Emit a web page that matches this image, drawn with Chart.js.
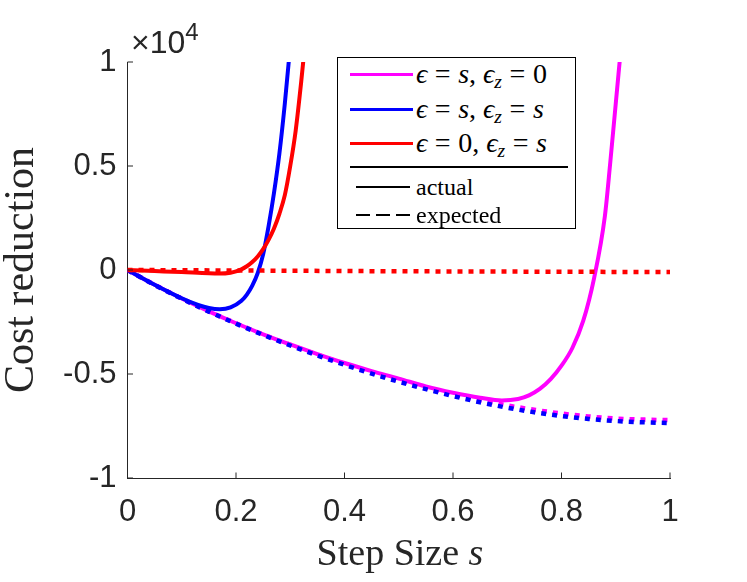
<!DOCTYPE html>
<html>
<head>
<meta charset="utf-8">
<script src="https://cdn.jsdelivr.net/npm/chart.js@4.4.0/dist/chart.umd.min.js"></script>
<style>
body { margin: 0; background: #fff; }
#wrap { position: relative; width: 747px; height: 582px; }
canvas { position: absolute; left: 0; top: 0; }
#mult { position: absolute; left: 131px; top: 27px; font: 32px "Liberation Sans", Arial, sans-serif; line-height: 30px; color: #262626; white-space: nowrap; }
#mult sup { font-size: 24px; vertical-align: baseline; position: relative; top: -13px; }
#xlab { position: absolute; left: 250px; width: 300px; top: 532px; text-align: center; font: 38px "Liberation Serif", serif; line-height: 40px; color: #262626; }
.legend { position: absolute; left: 337px; top: 57px; width: 237px; height: 170px; border: 1px solid #000; background: #fff; font-family: "Liberation Serif", "DejaVu Serif", serif; color: #000; }
.row { position: absolute; left: 0; width: 237px; height: 30px; }
.smp { position: absolute; }
.txt { position: absolute; left: 78px; top: 0; height: 30px; line-height: 30px; white-space: nowrap; }
.math { font-size: 28px; }
.plain { font-size: 24px; }
.eq { margin: 0 0.27em; }
.txt sub { font-size: 0.7em; line-height: 0; vertical-align: -0.25em; }
</style>
</head>
<body>
<div id="wrap">
  <canvas id="myChart" width="747" height="582"></canvas>
  <div id="mult">×10<sup>4</sup></div>
  <div id="xlab">Step Size <i>s</i></div>
  <div class="legend">
    <div class="row" style="top:1px">
      <div class="smp" style="left:12px;top:13.5px;width:63px;height:3px;background:#ff00ff"></div>
      <div class="txt math"><i>ϵ</i><span class="eq">=</span><i>s</i>, <i>ϵ</i><sub><i>z</i></sub><span class="eq">=</span>0</div>
    </div>
    <div class="row" style="top:36px">
      <div class="smp" style="left:12px;top:13.5px;width:63px;height:3px;background:#0000ff"></div>
      <div class="txt math"><i>ϵ</i><span class="eq">=</span><i>s</i>, <i>ϵ</i><sub><i>z</i></sub><span class="eq">=</span><i>s</i></div>
    </div>
    <div class="row" style="top:70px">
      <div class="smp" style="left:12px;top:13.5px;width:63px;height:3px;background:#ff0000"></div>
      <div class="txt math"><i>ϵ</i><span class="eq">=</span>0, <i>ϵ</i><sub><i>z</i></sub><span class="eq">=</span><i>s</i></div>
    </div>
    <div class="smp" style="left:12px;top:107.5px;width:218px;height:2px;background:#000"></div>
    <div class="row" style="top:114px">
      <div class="smp" style="left:18px;top:13.5px;width:54px;height:2.5px;background:#000"></div>
      <div class="txt plain">actual</div>
    </div>
    <div class="row" style="top:142px">
      <div class="smp" style="left:18px;top:13.5px;width:54px;height:2.5px;background:repeating-linear-gradient(to right,#000 0 14px,transparent 14px 20px)"></div>
      <div class="txt plain">expected</div>
    </div>
  </div>
</div>
<script>
// ticks
var xTicks = [0, 0.2, 0.4, 0.6, 0.8, 1];
var xTickLabels = ['0', '0.2', '0.4', '0.6', '0.8', '1'];
var yTicks = [-1, -0.5, 0, 0.5, 1];
var yTickLabels = ['-1', '-0.5', '0', '0.5', '1'];

// expected curves (x 10^4)
var sExp = [0, 0.05, 0.1, 0.15, 0.2, 0.25, 0.3, 0.35, 0.4, 0.45, 0.5, 0.55, 0.6, 0.65, 0.7, 0.75, 0.8, 0.85, 0.9, 0.95, 1];
var expBlue = [0, -0.072, -0.138, -0.200, -0.258, -0.312, -0.363, -0.411, -0.456, -0.498, -0.537, -0.573, -0.606, -0.636, -0.662, -0.684, -0.702, -0.716, -0.726, -0.732, -0.736];
var expMagenta = [0, -0.071, -0.137, -0.199, -0.256, -0.310, -0.360, -0.407, -0.451, -0.492, -0.530, -0.565, -0.597, -0.626, -0.651, -0.672, -0.690, -0.704, -0.714, -0.719, -0.722];
var sExpRed = [0, 0.25, 0.5, 0.75, 1];
var expRed = [0, -0.003, -0.006, -0.008, -0.010];

// actual curves
var sMagenta = [0, 0.05, 0.1, 0.15, 0.2, 0.25, 0.3, 0.35, 0.4, 0.45, 0.5, 0.55, 0.6, 0.65, 0.69, 0.72, 0.74, 0.76, 0.78, 0.8, 0.82, 0.84, 0.86, 0.88, 0.89, 0.9, 0.91];
var actMagenta = [0, -0.071, -0.137, -0.199, -0.256, -0.309, -0.358, -0.404, -0.447, -0.486, -0.522, -0.56, -0.59, -0.614, -0.627, -0.62, -0.603, -0.572, -0.525, -0.46, -0.375, -0.245, -0.04, 0.26, 0.52, 0.80, 1.08];
var sBlue = [0, 0.05, 0.1, 0.13, 0.15, 0.17, 0.19, 0.21, 0.22, 0.23, 0.24, 0.25, 0.26, 0.27, 0.28, 0.29, 0.3];
var actBlue = [0, -0.071, -0.136, -0.168, -0.183, -0.189, -0.180, -0.148, -0.118, -0.075, -0.015, 0.075, 0.21, 0.37, 0.56, 0.80, 1.08];
var sRed = [0, 0.05, 0.1, 0.15, 0.17, 0.19, 0.2, 0.21, 0.22, 0.23, 0.24, 0.25, 0.26, 0.27, 0.28, 0.29, 0.3, 0.31, 0.32, 0.33];
var actRed = [0, -0.005, -0.010, -0.016, -0.017, -0.013, -0.007, 0.003, 0.018, 0.038, 0.065, 0.10, 0.145, 0.20, 0.27, 0.36, 0.50, 0.67, 0.90, 1.16];

function pts(xs, ys) {
  return xs.map(function (v, i) { return { x: v, y: ys[i] }; });
}

function line(xs, ys, color, dotted) {
  return {
    data: pts(xs, ys),
    borderColor: color,
    borderWidth: dotted ? 4.5 : 4,
    borderDash: dotted ? [5, 6] : [],
    borderCapStyle: 'butt',
    pointRadius: 0,
    fill: false,
    cubicInterpolationMode: 'monotone',
    clip: { left: 0, top: 0, right: 3, bottom: 0 }
  };
}

// ticks pointing inward, like the original axes
var innerTicks = {
  id: 'innerTicks',
  afterDraw: function (chart) {
    var ctx = chart.ctx, a = chart.chartArea, x = chart.scales.x, y = chart.scales.y;
    ctx.save();
    ctx.strokeStyle = '#262626';
    ctx.lineWidth = 1;
    ctx.beginPath();
    x.ticks.forEach(function (t) {
      var px = x.getPixelForValue(t.value);
      ctx.moveTo(px, a.bottom); ctx.lineTo(px, a.bottom - 5.5);
    });
    y.ticks.forEach(function (t) {
      var py = y.getPixelForValue(t.value);
      ctx.moveTo(a.left, py); ctx.lineTo(a.left + 5.5, py);
    });
    ctx.stroke();
    ctx.restore();
  }
};

var tickFont = { family: '"Liberation Sans", Arial, sans-serif', size: 31, lineHeight: 1 };

var ctx = document.getElementById('myChart').getContext('2d');
var chart = new Chart(ctx, {
  type: 'line',
  data: {
    datasets: [
      line(sExpRed, expRed, '#ff0000', true),
      line(sRed, actRed, '#ff0000', false),
      line(sExp, expBlue, '#0000ff', true),
      line(sBlue, actBlue, '#0000ff', false),
      line(sExp, expMagenta, '#ff00ff', true),
      line(sMagenta, actMagenta, '#ff00ff', false)
    ]
  },
  options: {
    responsive: false,
    animation: false,
    devicePixelRatio: 1,
    layout: { padding: { top: 62, right: 77, left: 0, bottom: 0 } },
    plugins: { legend: { display: false }, tooltip: { enabled: false } },
    scales: {
      x: {
        type: 'linear', min: 0, max: 1,
        grid: { display: false, drawTicks: false },
        border: { display: true, color: '#262626', width: 1 },
        afterBuildTicks: function (s) { s.ticks = xTicks.map(function (v) { return { value: v }; }); },
        afterFit: function (s) { s.height = 104; },
        ticks: {
          color: '#262626', font: tickFont, padding: 19, maxRotation: 0, autoSkip: false,
          callback: function (v, i) { return xTickLabels[i]; }
        }
      },
      y: {
        type: 'linear', min: -1, max: 1,
        grid: { display: false, drawTicks: false },
        border: { display: true, color: '#262626', width: 1 },
        afterBuildTicks: function (s) { s.ticks = yTicks.map(function (v) { return { value: v }; }); },
        afterFit: function (s) { s.width = 127.5; },
        ticks: {
          color: '#262626', font: tickFont, padding: 11, autoSkip: false,
          callback: function (v, i) { return yTickLabels[i]; }
        },
        title: {
          display: true, text: 'Cost reduction', color: '#262626',
          font: { family: '"Liberation Serif", serif', size: 42, lineHeight: 1 },
          padding: { top: 1, bottom: 0 }
        }
      }
    }
  },
  plugins: [innerTicks]
});
</script>
</body>
</html>
